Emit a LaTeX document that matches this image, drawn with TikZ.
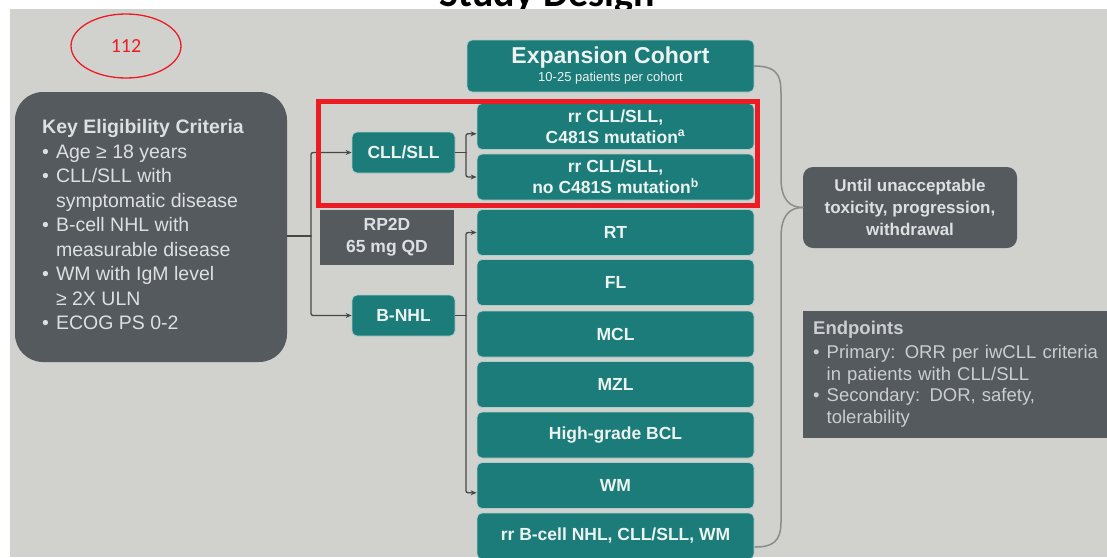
\documentclass[tikz,border=0pt]{standalone}
\usepackage{fontspec}
\setmainfont{Liberation Sans}
\newfontfamily\calibfont{Carlito}
\usetikzlibrary{arrows.meta,shapes.geometric}
\definecolor{Slide}{RGB}{209,210,206}
\definecolor{Teal}{RGB}{28,124,121}
\definecolor{TealEdge}{RGB}{172,206,204}
\definecolor{Dark}{RGB}{84,90,93}
\definecolor{Pale}{RGB}{220,224,224}
\definecolor{TealText}{RGB}{236,243,241}
\definecolor{Wire}{RGB}{70,72,72}
\definecolor{Brace}{RGB}{138,141,140}
\definecolor{Mark}{RGB}{237,28,36}

\begin{document}
\begin{tikzpicture}[x=1pt,y=-1pt,line cap=round,
  armbox/.style={rectangle,rounded corners=5pt,fill=Teal,draw=TealEdge,line width=0.8pt,text=TealText,
    font=\bfseries\fontsize{17.5}{21}\selectfont,align=center,inner sep=0pt,minimum width=277,minimum height=46},
  typebox/.style={armbox,minimum width=103,minimum height=41},
  greybox/.style={rectangle,fill=Dark,text=Pale,inner sep=0pt},
  wire/.style={draw=Wire,line width=1.3pt,rounded corners=2pt},
  feed/.style={wire,-{Stealth[length=6pt,width=5pt]}}]
\path[use as bounding box] (0,0) rectangle (1107,557);
\fill[white] (0,0) rectangle (1107,557);
\node[font=\calibfont\bfseries\fontsize{40}{40}\selectfont,anchor=base] (title) at (547,6) {Study Design};
\fill[Slide] (10,8.5) rectangle (1107,557);
\node[ellipse,draw=Mark,line width=1.3pt,minimum width=110,minimum height=64,text=Mark,font=\calibfont\fontsize{20}{20}\selectfont] (tag) at (126,46) {112};
\node[greybox,rounded corners=28pt,minimum width=272,minimum height=270,font=\fontsize{19.5}{24.5}\selectfont] (crit) at (151,227) {\begin{tabular}{@{}l@{\hspace{7pt}}l@{}}
\multicolumn{2}{@{}c@{}}{\bfseries Key Eligibility Criteria}\\
\textbullet & Age ≥ 18 years\\
\textbullet & CLL/SLL with\\
 & symptomatic disease\\
\textbullet & B-cell NHL with\\
 & measurable disease\\
\textbullet & WM with IgM level\\
 & ≥ 2X ULN\\
\textbullet & ECOG PS 0-2
\end{tabular}\kern16pt\mbox{}};
\node[typebox] (cll) at (403.5,152.5) {CLL/SLL};
\node[greybox,minimum width=134,minimum height=55,align=center,font=\bfseries\fontsize{17.5}{22}\selectfont] (dose) at (387,237.5) {RP2D\\65 mg QD};
\node[typebox] (bnhl) at (403.5,315.5) {B-NHL};
\node[armbox,minimum width=287,minimum height=52] (exp) at (610.5,66) {{\fontsize{23}{23}\selectfont Expansion Cohort}\\[-3pt]{\mdseries\fontsize{13}{13}\selectfont 10-25 patients per cohort}};
\node[armbox] (rrA) at (615.5,126.5) {rr CLL/SLL,\\C481S mutation\textsuperscript{a}};
\node[armbox] (rrB) at (615.5,177) {rr CLL/SLL,\\no C481S mutation\textsuperscript{b}};
\node[armbox] (rt) at (615.5,232.5) {RT};
\node[armbox] (fl) at (615.5,282.5) {FL};
\node[armbox] (mcl) at (615.5,334) {MCL};
\node[armbox] (mzl) at (615.5,384.5) {MZL};
\node[armbox] (hgb) at (615.5,435) {High-grade BCL};
\node[armbox] (wm) at (615.5,485.5) {WM};
\node[armbox] (rrN) at (615.5,536) {rr B-cell NHL, CLL/SLL, WM};
\node[greybox,rounded corners=10pt,minimum width=214,minimum height=81,align=center,font=\bfseries\fontsize{17}{22}\selectfont] (until) at (910,207.5) {Until unacceptable\\toxicity, progression,\\withdrawal};
\node[greybox,anchor=north west,text width=310,inner xsep=10pt,minimum height=127,align=left,text=Pale!92!black,font=\fontsize{18.5}{21.7}\selectfont] (ends) at (803,311) {\begin{tabular}{@{}l@{\hspace{7pt}}l@{}}
\multicolumn{2}{@{}l}{\bfseries Endpoints}\\[2pt]
\textbullet & Primary: ORR per iwCLL criteria\\
 & in patients with CLL/SLL\\
\textbullet & Secondary: DOR, safety,\\
 & tolerability
\end{tabular}};
\coordinate (fork) at (311,236);
\draw[wire] (crit.east |- fork) -- (fork);
\draw[feed] (fork) |- (cll);
\draw[feed] (fork) |- (bnhl);
\coordinate (cllfork) at (466,152.5);
\draw[wire] (cll) -- (cllfork);
\draw[feed] (cllfork) |- (rrA.183);
\draw[feed] (cllfork) |- (rrB.west);
\coordinate (nhlfork) at (466,315.5);
\draw[wire] (bnhl) -- (nhlfork);
\draw[feed] (nhlfork) |- (rt.west);
\draw[feed] (nhlfork) |- (wm.183);
\coordinate (braceend) at (755,547);
\draw[Brace,line width=1.5pt] (exp.east) .. controls (781,66) and (781,80) .. (781,96) -- (781,178) .. controls (781,200) and (790,207.5) .. (until.west);
\draw[Brace,line width=1.5pt] (until.west) .. controls (790,207.5) and (781,215) .. (781,237) -- (781,522) .. controls (781,542) and (772,547) .. (braceend);
\draw[Mark,line width=5pt] (318,101) rectangle (757,205);
\end{tikzpicture}
\end{document}
